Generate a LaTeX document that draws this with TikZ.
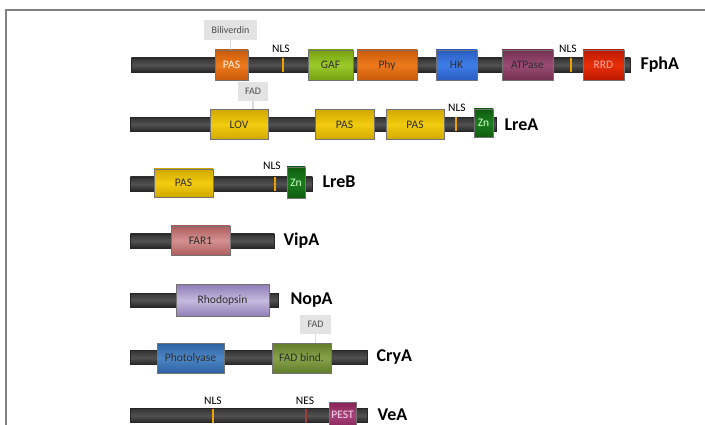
\documentclass[tikz,border=0pt]{standalone}
\usepackage{fontspec}
\setmainfont{Carlito}
\definecolor{orE}{HTML}{C85A0A}\definecolor{orM}{HTML}{EE7A1C}
\definecolor{gaE}{HTML}{76A010}\definecolor{gaM}{HTML}{9CCA2A}
\definecolor{hkE}{HTML}{2A5CC0}\definecolor{hkM}{HTML}{3E7EE8}
\definecolor{atE}{HTML}{75304F}\definecolor{atM}{HTML}{9A4C74}
\definecolor{rrE}{HTML}{BC1800}\definecolor{rrM}{HTML}{E83008}
\definecolor{yeE}{HTML}{D0A800}\definecolor{yeM}{HTML}{F2CC10}
\definecolor{znE}{HTML}{0E5C0E}\definecolor{znM}{HTML}{1E7E1E}
\definecolor{faE}{HTML}{AE5E5E}\definecolor{faM}{HTML}{D49090}
\definecolor{rhE}{HTML}{8E7EB6}\definecolor{rhM}{HTML}{C6BADE}
\definecolor{phE}{HTML}{2E62A0}\definecolor{phM}{HTML}{4C86C6}
\definecolor{fbE}{HTML}{607C2A}\definecolor{fbM}{HTML}{86A24A}
\definecolor{peE}{HTML}{862256}\definecolor{peM}{HTML}{A8447A}
\definecolor{nlsC}{HTML}{F0A000}
\definecolor{nesC}{HTML}{A03C3C}
\begin{document}
\begin{tikzpicture}[x=1pt,y=-1pt,
  bar/.style={draw=black!85, line width=0.5pt, top color=black!80, bottom color=black!85, middle color=black!68, inner sep=0pt, minimum height=14pt, anchor=west},
  dom/.style={draw=black!55, line width=0.5pt, inner sep=0pt, font=\fontsize{11.5}{13}\selectfont, text=black!82},
  dc/.style={top color=#1E, bottom color=#1E, middle color=#1M},
  tick/.style={inner sep=0pt, minimum width=2.6pt, minimum height=14pt, fill=#1},
  lig/.style={fill=black!11, inner sep=0pt, font=\fontsize{10}{11}\selectfont, text=black!70},
  conn/.style={draw=black!15, line width=1.5pt},
  sig/.style={font=\fontsize{11.5}{13}\selectfont, text=black},
  pname/.style={font=\fontsize{18}{20}\selectfont\bfseries, anchor=west},
]
\useasboundingbox (0,0) rectangle (705,425);
\draw[black!50, line width=2pt] (6,426) -- (6,10) -- (706,10);

% ---------- FphA ----------
\node[bar, minimum width=499pt] (b1) at (131,65) {};
\node[tick=nlsC] (t1a) at (283,65) {};
\node[tick=nlsC] (t1b) at (571,65) {};
\node[sig] (n1a) at (281,49) {NLS};
\node[sig] (n1b) at (568,49) {NLS};
\node[dom, dc=or, minimum width=33pt, minimum height=30pt, text=white!90!orange] (pas1) at (231.5,65) {PAS};
\node[dom, dc=ga, minimum width=45pt, minimum height=30pt] (gaf) at (330.5,65) {GAF};
\node[dom, dc=or, minimum width=60pt, minimum height=30pt] (phy) at (387,65) {Phy};
\node[dom, dc=hk, minimum width=41pt, minimum height=30pt] (hk) at (456.5,65) {HK};
\node[dom, dc=at, minimum width=51pt, minimum height=30pt] (atp) at (527.5,65) {ATPase};
\node[dom, dc=rr, minimum width=41pt, minimum height=30pt, text=red!35!white] (rrd) at (603.5,65) {RRD};
\node[lig, minimum width=53pt, minimum height=20pt] (bili) at (230.5,30) {Biliverdin};
\draw[conn] (bili.south) -- (bili.south |- pas1.north);
\node[pname] (l1) at (637,65) {FphA};

% ---------- LreA ----------
\node[bar, minimum width=366pt] (b2) at (130,124.5) {};
\node[tick=nlsC] (t2) at (456,124.5) {};
\node[sig] (n2) at (457,108) {NLS};
\node[dom, dc=ye, minimum width=58pt, minimum height=30pt] (lov) at (239,124.5) {LOV};
\node[dom, dc=ye, minimum width=59pt, minimum height=30pt] (pas2) at (344.5,124.5) {PAS};
\node[dom, dc=ye, minimum width=58pt, minimum height=30pt] (pas3) at (415,124.5) {PAS};
\node[dom, dc=zn, minimum width=19pt, minimum height=28pt, text=white!80!green] (zn1) at (483.5,123) {Zn};
\node[lig, minimum width=30pt, minimum height=19pt] (fad1) at (253,91.5) {FAD};
\draw[conn] (fad1.south) -- (fad1.south |- lov.north);
\node[pname] (l2) at (501,125) {LreA};

% ---------- LreB ----------
\node[bar, minimum width=182pt] (b3) at (130,184) {};
\node[tick=nlsC] (t3) at (275,184) {};
\node[sig] (n3) at (272,166) {NLS};
\node[dom, dc=ye, minimum width=59pt, minimum height=28pt] (pas4) at (183.5,183) {PAS};
\node[dom, dc=zn, minimum width=18pt, minimum height=31pt, text=white!80!green] (zn2) at (296,182.5) {Zn};
\node[pname] (l3) at (319,182) {LreB};

% ---------- VipA ----------
\node[bar, minimum width=144pt] (b4) at (130,241) {};
\node[dom, dc=fa, minimum width=59pt, minimum height=29pt] (far) at (200.5,240.5) {FAR1};
\node[pname] (l4) at (280,241) {VipA};

% ---------- NopA ----------
\node[bar, minimum width=148pt] (b5) at (130,300) {};
\node[dom, dc=rh, minimum width=93pt, minimum height=32pt] (rho) at (222.5,300.5) {Rhodopsin};
\node[pname] (l5) at (287,300) {NopA};

% ---------- CryA ----------
\node[bar, minimum width=237pt] (b6) at (130,357.5) {};
\node[dom, dc=ph, minimum width=67pt, minimum height=30pt] (pho) at (190.5,358) {Photolyase};
\node[dom, dc=fb, minimum width=59pt, minimum height=30pt] (fadb) at (301.5,358) {FAD bind.};
\node[lig, minimum width=31pt, minimum height=19pt] (fad2) at (315.5,324.5) {FAD};
\draw[conn] (fad2.south) -- (fad2.south |- fadb.north);
\node[pname] (l6) at (373,357) {CryA};

% ---------- VeA ----------
\node[bar, minimum width=237pt] (b7) at (130,415.5) {};
\node[tick=nlsC] (t7a) at (213,415.5) {};
\node[tick=nesC] (t7b) at (306,415.5) {};
\node[sig] (n7a) at (213,401) {NLS};
\node[sig] (n7b) at (305,401) {NES};
\node[dom, dc=pe, minimum width=27pt, minimum height=26pt, text=magenta!15!white, anchor=north] (pest) at (342.5,402) {PEST};
\node[pname] (l7) at (374,415) {VeA};
\end{tikzpicture}
\end{document}
